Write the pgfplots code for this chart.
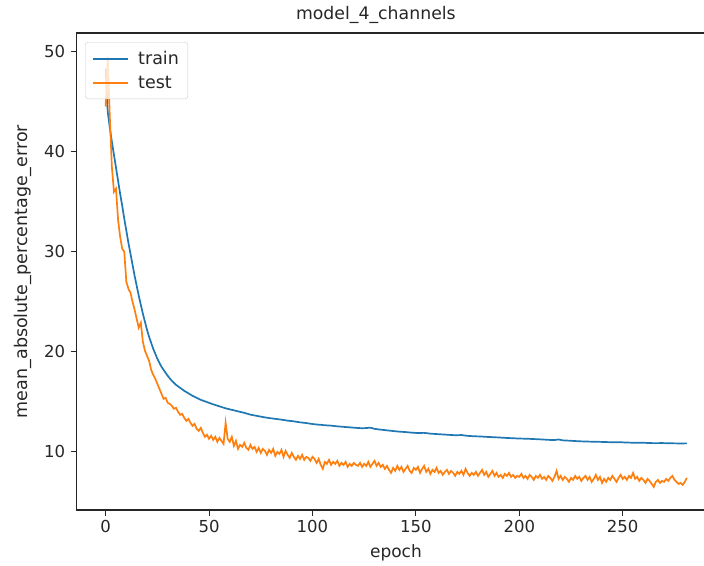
\documentclass[border=0pt]{standalone}
\usepackage{fontspec}
\setmainfont{DejaVu Sans}
\usepackage{pgfplots}
\pgfplotsset{compat=1.18}
\usetikzlibrary{calc}
\definecolor{mplblue}{HTML}{1F77B4}
\definecolor{mplorange}{HTML}{FF7F0E}
\definecolor{spine}{HTML}{262626}

\begin{document}
\begin{tikzpicture}
\begin{axis}[
  name=ax,
  scale only axis,
  width=627.4pt, height=477pt,
  xmin=-14.05, xmax=289.3,
  ymin=4.19, ymax=51.86,
  xtick={0,50,100,150,200,250},
  ytick={10,20,30,40,50},
  axis line style={draw=none},
  tick align=outside,
  xtick pos=bottom, ytick pos=left,
  major tick length=6pt,
  every tick/.style={spine, line width=1.1pt},
  tick label style={font=\fontsize{16.5}{19}\selectfont, text=black!85},
  /pgf/number format/assume math mode=true,
  yticklabel style={xshift=-2pt},
  xticklabel style={yshift=-1pt},
  title={model\_4\_channels},
  title style={at={(axis description cs:0.477,1.026)}, anchor=center, font=\fontsize{17.3}{20}\selectfont, text=black!85},
  xlabel={epoch},
  xlabel style={at={(axis description cs:0.509,-0.09)}, anchor=center, font=\fontsize{17}{20}\selectfont, text=black!85},
  ylabel={mean\_absolute\_percentage\_error},
  ylabel style={at={(axis description cs:-0.085,0.5)}, anchor=center, font=\fontsize{17.5}{20}\selectfont, text=black!85},
  legend style={at={(axis description cs:0.0134,0.981)}, anchor=north west,
    draw=black!20, rounded corners=3pt, fill=white, fill opacity=0.8, text opacity=1,
    font=\fontsize{17.5}{20}\selectfont, inner xsep=7pt, inner ysep=7pt, row sep=6pt,
    column sep=7pt, text=black!85},
  legend cell align=left,
  legend image code/.code={\draw[#1, line width=2pt] (0pt,0pt) -- (35pt,0pt);},
  clip=false,
]
\addplot[mplblue, line width=1.7pt] coordinates {
(0,48.3)(1,44.0)(2,42.4)(3,41.0)(4,39.7)(5,38.4)(6,37.1)(7,35.8)(8,34.6)(9,33.3)
(10,32.1)(11,30.9)(12,29.8)(13,28.7)(14,27.6)(15,26.6)(16,25.6)(17,24.7)(18,23.8)(19,23.0)
(20,22.2)(21,21.5)(22,20.9)(23,20.3)(24,19.8)(25,19.3)(26,18.9)(27,18.5)(28,18.2)(29,17.9)
(30,17.6)(32,17.1)(34,16.7)(36,16.4)(38,16.1)(40,15.85)(42,15.6)(44,15.4)(46,15.2)(48,15.05)
(50,14.9)(52,14.75)(55,14.55)(58,14.35)(61,14.2)(64,14.05)(67,13.9)(70,13.72)(73,13.6)(76,13.48)
(79,13.38)(82,13.3)(85,13.22)(88,13.12)(91,13.05)(94,12.95)(97,12.88)(100,12.78)(103,12.72)(106,12.66)
(109,12.62)(112,12.55)(115,12.5)(118,12.45)(121,12.4)(124,12.36)(126,12.38)(128,12.42)(130,12.3)(133,12.22)
(136,12.15)(139,12.08)(142,12.02)(145,11.98)(148,11.92)(151,11.88)(154,11.9)(157,11.82)(160,11.78)(163,11.74)
(166,11.7)(169,11.66)(172,11.68)(175,11.6)(178,11.56)(181,11.54)(184,11.5)(187,11.47)(190,11.44)(193,11.4)
(196,11.37)(199,11.34)(202,11.32)(205,11.3)(208,11.27)(211,11.24)(214,11.2)(217,11.18)(219,11.24)(221,11.15)
(224,11.12)(227,11.08)(230,11.05)(233,11.03)(236,11.01)(239,11.0)(242,10.98)(245,10.96)(248,10.97)(251,10.94)
(254,10.92)(257,10.9)(260,10.91)(263,10.88)(266,10.87)(269,10.88)(272,10.86)(275,10.85)(278,10.84)(281,10.85)
};
\addlegendentry{train}
\addplot[mplorange, line width=1.7pt] coordinates {
(0,44.5)(1,49.5)(2,43.5)(3,38.5)(4,36.0)(5,36.3)(6,33.2)(7,31.5)(8,30.3)(9,30.0)
(10,27.0)(11,26.3)(12,25.9)(13,25.0)(14,24.2)(15,23.3)(16,22.4)(17,22.9)(18,21.0)(19,20.1)
(20,19.6)(21,19.1)(22,18.2)(23,17.7)(24,17.3)(25,16.8)(26,16.3)(27,15.8)(28,15.3)(29,15.4)
(30,14.9)(31,14.8)(32,14.6)(33,14.3)(34,14.4)(35,14.0)(36,13.7)(37,13.8)(38,13.4)(39,13.1)
(40,13.3)(41,12.9)(42,12.6)(43,12.8)(44,12.3)(45,12.1)(46,12.4)(47,11.9)(48,11.5)(49,11.7)
(50,11.3)(51,11.6)(52,11.2)(53,11.5)(54,11.0)(55,11.4)(56,11.1)(57,10.8)(58,12.9)(59,11.3)
(60,11.0)(61,11.5)(62,10.6)(63,11.1)(64,10.3)(65,10.7)(66,10.5)(67,10.9)(68,10.4)(69,10.2)
(70,10.7)(71,10.3)(72,10.5)(73,10.0)(74,10.4)(75,9.9)(76,10.3)(77,10.1)(78,9.7)(79,10.2)
(80,9.9)(81,10.3)(82,9.6)(83,10.0)(84,9.8)(85,10.2)(86,9.5)(87,10.1)(88,9.7)(89,9.4)
(90,9.9)(91,9.5)(92,9.2)(93,9.6)(94,9.3)(95,9.7)(96,9.2)(97,9.5)(98,9.4)(99,9.1)
(100,9.5)(101,9.3)(102,8.9)(103,9.3)(104,8.7)(105,8.3)(106,9.0)(107,8.8)(108,9.2)(109,8.7)
(110,9.0)(111,8.8)(112,9.1)(113,8.6)(114,8.9)(115,8.7)(116,9.0)(117,8.5)(118,8.8)(119,8.6)
(120,8.9)(121,8.7)(122,8.6)(123,8.9)(124,8.5)(125,8.8)(126,8.6)(127,9.0)(128,8.5)(129,8.8)
(130,9.1)(131,8.6)(132,8.9)(133,8.5)(134,8.7)(135,8.3)(136,8.6)(137,8.2)(138,7.9)(139,8.4)
(140,8.1)(141,8.6)(142,8.2)(143,8.5)(144,8.0)(145,8.3)(146,8.6)(147,8.1)(148,7.9)(149,8.4)
(150,8.2)(151,8.5)(152,7.9)(153,8.3)(154,8.6)(155,8.0)(156,8.3)(157,7.8)(158,8.2)(159,8.0)
(160,8.4)(161,7.9)(162,8.1)(163,7.7)(164,8.0)(165,8.2)(166,7.8)(167,8.1)(168,7.9)(169,7.6)
(170,8.0)(171,7.8)(172,8.1)(173,7.7)(174,8.3)(175,7.9)(176,7.6)(177,7.9)(178,7.7)(179,8.0)
(180,7.6)(181,7.9)(182,8.2)(183,7.7)(184,8.0)(185,7.5)(186,7.8)(187,8.1)(188,7.6)(189,7.9)
(190,7.5)(191,7.7)(192,7.4)(193,7.8)(194,7.6)(195,7.9)(196,7.5)(197,7.7)(198,7.4)(199,7.6)
(200,7.5)(201,7.8)(202,7.4)(203,7.6)(204,7.3)(205,7.7)(206,7.5)(207,7.2)(208,7.6)(209,7.4)
(210,7.7)(211,7.3)(212,7.5)(213,7.2)(214,7.6)(215,7.4)(216,7.1)(217,7.5)(218,8.1)(219,7.3)
(220,7.6)(221,7.2)(222,7.5)(223,7.3)(224,7.0)(225,7.4)(226,7.2)(227,7.6)(228,7.3)(229,7.5)
(230,7.1)(231,7.4)(232,7.6)(233,7.2)(234,7.5)(235,7.0)(236,7.3)(237,7.7)(238,7.2)(239,7.5)
(240,6.9)(241,7.3)(242,7.0)(243,7.4)(244,7.2)(245,7.6)(246,7.3)(247,7.0)(248,7.4)(249,7.7)
(250,7.3)(251,7.5)(252,7.2)(253,7.6)(254,7.4)(255,7.9)(256,7.3)(257,7.5)(258,7.1)(259,7.4)
(260,7.2)(261,6.9)(262,7.3)(263,7.1)(264,6.8)(265,6.5)(266,7.0)(267,7.2)(268,6.9)(269,7.1)
(270,7.0)(271,7.3)(272,7.1)(273,7.4)(274,7.6)(275,7.2)(276,7.0)(277,6.8)(278,6.9)(279,6.7)
(280,7.0)(281,7.4)
};
\addlegendentry{test}
\end{axis}
% spines: the right one is cut off in the reference
\draw[spine, line width=1.1pt] (ax.north east) -- (ax.north west) -- (ax.south west) -- (ax.south east);
\pgfresetboundingbox
\path ($(ax.south west)+(-76.6pt,-55pt)$) rectangle ($(ax.north east)+(0pt,33pt)$);
\end{tikzpicture}
\end{document}
